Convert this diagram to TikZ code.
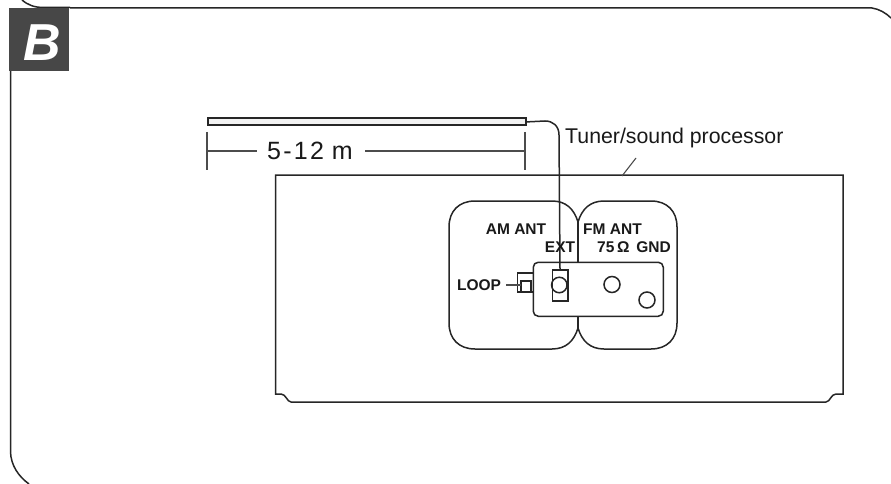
\documentclass[tikz,border=0pt]{standalone}
\usepackage{fontspec}
\setmainfont{Liberation Sans}
\newfontfamily\spaced[LetterSpace=9]{Liberation Sans}
\tikzset{
  ink/.style={draw=black!85,line width=1.5pt},
  thin ink/.style={draw=black!70,line width=1.1pt},
  lbl/.style={inner sep=0pt,text=black!90,font=\fontsize{15.5}{16}\selectfont\bfseries},
  big/.style={inner sep=0pt,text=black!90,font=\spaced\fontsize{25}{26}\selectfont},
}
\begin{document}
\begin{tikzpicture}[x=1pt,y=-1pt]
\useasboundingbox (0,0) rectangle (891,484);
\fill[white] (0,0) rectangle (891,484);
% outer frame
\coordinate (ftl) at (22,0);
\coordinate (ftr) at (891,18);
\coordinate (fbl) at (29,484);
\draw[ink] (ftl) .. controls (28,5) and (34,7.5) .. (44,7.5) -- (70,7.5);
\draw[ink] (70,8) -- (872,8) .. controls (879,9) and (886,13) .. (ftr);
\draw[ink] (10.5,70) -- (10.5,452) .. controls (11,465) and (18,476) .. (fbl);
% badge
\node[fill=black!72,minimum width=60pt,minimum height=63pt,inner sep=0pt,anchor=north west] (badge) at (9,8) {};
\node[text=white,inner sep=0pt,font=\fontsize{52}{52}\selectfont\bfseries\itshape] (letter) at (42,43) {B};
% antenna
\node[draw=black!85,line width=1.8pt,fill=black!5,minimum width=318pt,minimum height=7pt,inner sep=0pt,anchor=north west] (antenna) at (207,117.5) {};
% panel
\draw[ink] (275.5,175) -- (843,175) -- (843,394) -- (836,394) .. controls (831,394) and (830,402) .. (826,402)
  -- (291,402) .. controls (287,402) and (286,394) .. (281,394) -- (275.5,394) -- cycle;
% AM / FM outlines
\draw[ink] (578,222) .. controls (574,209) and (566,201) .. (552,201) -- (475,201)
  .. controls (459,201) and (449,211) .. (449,227) -- (449,323)
  .. controls (449,339) and (459,349) .. (475,349) -- (552,349)
  .. controls (566,349) and (574,341) .. (578,328);
\draw[ink] (578,222) .. controls (582,209) and (590,201) .. (604,201) -- (651,201)
  .. controls (667,201) and (677,211) .. (677,227) -- (677,323)
  .. controls (677,339) and (667,349) .. (651,349) -- (604,349)
  .. controls (590,349) and (582,341) .. (578,328);
\draw[ink] (578,222) -- (578,261.5) (578,315) -- (578,328);
% board
\node[ink,fill=white,rounded corners=5pt,minimum width=130pt,minimum height=54pt,inner sep=0pt,anchor=north west] (board) at (532.5,261.5) {};
% loop connector
\draw[ink] (532.5,273) -- (517.5,273) -- (517.5,292) -- (532.5,292);
\draw[ink] (521,292) -- (521,281) -- (531,281) -- (531,292);
% terminals
\node[ink,minimum width=15.5pt,minimum height=31pt,inner sep=0pt,anchor=north west] (extbox) at (551.5,269) {};
\node[ink,circle,minimum size=15.5pt,inner sep=0pt] (ext) at (559.3,285) {};
\node[ink,circle,minimum size=16pt,inner sep=0pt] (fm) at (612,284.5) {};
\node[ink,circle,minimum size=16pt,inner sep=0pt] (gnd) at (647,300) {};
% wire
\draw[ink] (antenna.east) -- (545,121) .. controls (553,121) and (559,126) .. (559,135) -- (extbox.north);
% dimension
\coordinate (dl1) at (207,132); \coordinate (dl2) at (207,170);
\coordinate (dr1) at (525,132); \coordinate (dr2) at (525,170);
\draw[thin ink] (dl1) -- (dl2) (dr1) -- (dr2);
\node[big] (dim) at (310,151) {5-12\hspace{8pt}m};
\coordinate (dla) at (207,151); \coordinate (dlb) at (257,151);
\coordinate (dra) at (365,151); \coordinate (drb) at (525,151);
\draw[thin ink] (dla) -- (dlb) (dra) -- (drb);
% labels
\node[inner sep=0pt,text=black!90,font=\fontsize{21.3}{22}\selectfont,anchor=west] (tuner) at (565,138) {Tuner/sound processor};
\coordinate (la) at (636,158); \coordinate (lb) at (622,176);
\draw[thin ink] (la) -- (lb);
\node[lbl] (amant) at (516,229) {AM ANT};
\node[lbl] (exttxt) at (560,247) {EXT};
\node[lbl] (fmant) at (612.5,229) {FM ANT};
\node[lbl,anchor=west] (gndtxt) at (597,247) {75\,Ω\, GND};
\node[lbl] (looptxt) at (479,285) {LOOP};
\coordinate (ll) at (506,285); \coordinate (lr) at (521,285);
\draw[thin ink] (ll) -- (lr);
\end{tikzpicture}
\end{document}
